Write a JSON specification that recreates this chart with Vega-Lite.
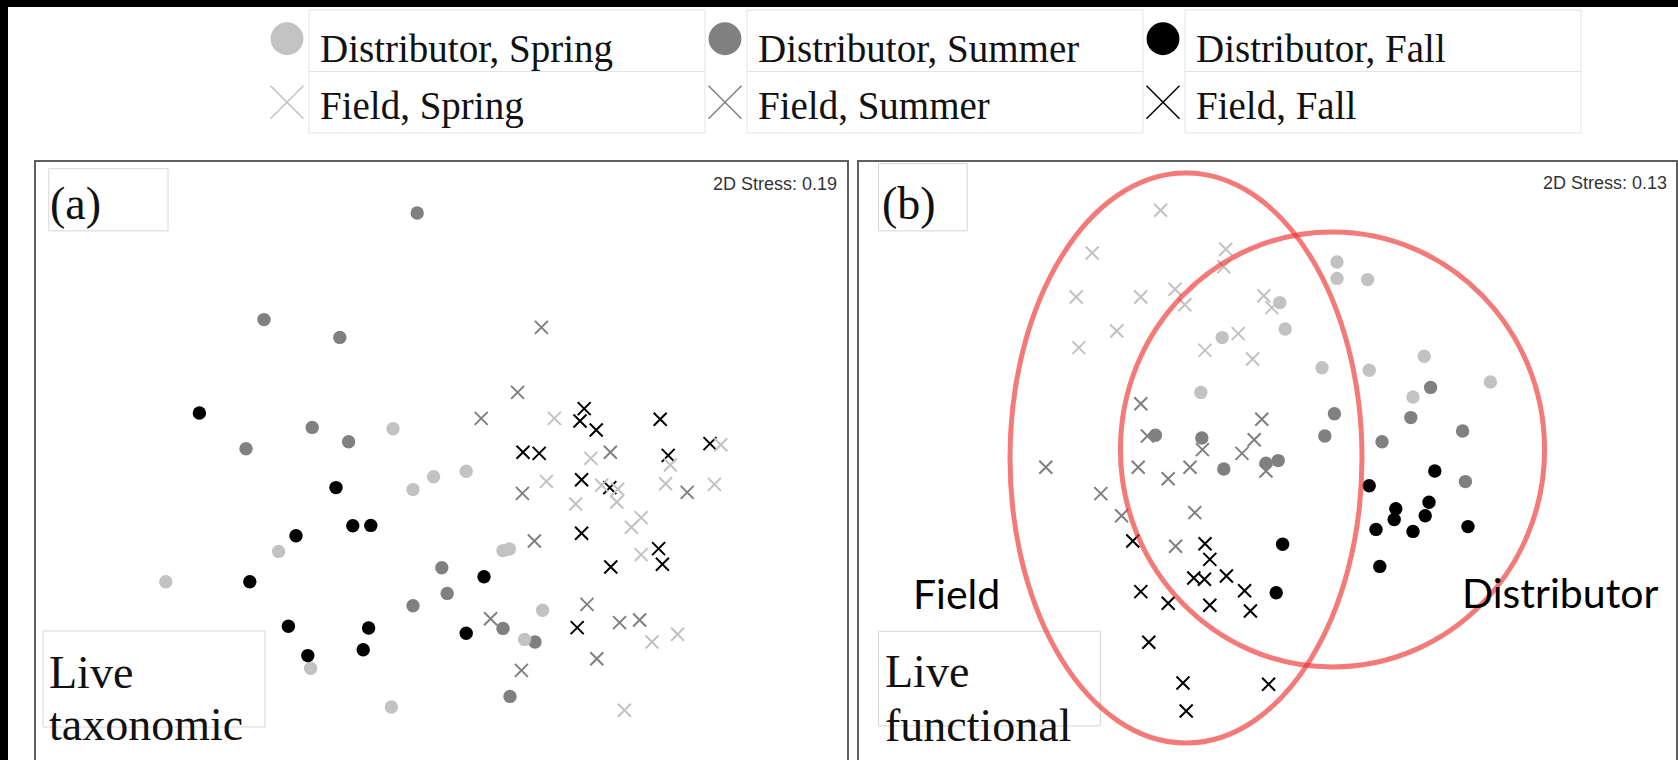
{
"$schema": "https://vega.github.io/schema/vega-lite/v6.json",
"padding": 0,
"background": "white",
"bounds": "flush",
"spacing": 0,
"config": {"view": {"stroke": null}, "concat": {"spacing": 0}},
"datasets": {
"legend": [
{"label": "Distributor, Spring", "group": "Distributor", "season": "Spring"},
{"label": "Distributor, Summer", "group": "Distributor", "season": "Summer"},
{"label": "Distributor, Fall", "group": "Distributor", "season": "Fall"},
{"label": "Field, Spring", "group": "Field", "season": "Spring"},
{"label": "Field, Summer", "group": "Field", "season": "Summer"},
{"label": "Field, Fall", "group": "Field", "season": "Fall"}
],
"boxes": [
{"panel": "a", "x": -1.931, "x2": -1.335, "y": 1.5615, "y2": 1.2505},
{"panel": "a", "x": -1.96, "x2": -0.85, "y": -0.75, "y2": -1.23},
{"panel": "b", "x": -1.8975, "x2": -1.454, "y": 1.587, "y2": 1.2505},
{"panel": "b", "x": -1.8975, "x2": -0.7885, "y": -0.7515, "y2": -1.2245}
],
"ann": [
{"panel": "a", "kind": "tag", "text": "(a)", "x": -1.925, "y": 1.31},
{"panel": "a", "kind": "stress", "text": "2D Stress: 0.19", "x": 2.01, "y": 1.455},
{"panel": "a", "kind": "name", "text": "Live", "x": -1.93, "y": -1.035},
{"panel": "a", "kind": "name", "text": "taxonomic", "x": -1.93, "y": -1.295},
{"panel": "b", "kind": "tag", "text": "(b)", "x": -1.88, "y": 1.31},
{"panel": "b", "kind": "stress", "text": "2D Stress: 0.13", "x": 2.045, "y": 1.46},
{"panel": "b", "kind": "name", "text": "Live", "x": -1.865, "y": -1.03},
{"panel": "b", "kind": "name", "text": "functional", "x": -1.865, "y": -1.3},
{"panel": "b", "kind": "group", "text": "Field", "x": -1.725, "y": -0.64},
{"panel": "b", "kind": "group", "text": "Distributor", "x": 1.02, "y": -0.635}
],
"ell": [
{"panel": "b", "name": "Field", "x": -0.36, "y": 0.115},
{"panel": "b", "name": "Distributor", "x": 0.3725, "y": 0.1575}
],
"pts": [
{"panel":"a","group":"Distributor","season":"Summer","x":-0.089,"y":1.340},
{"panel":"a","group":"Distributor","season":"Summer","x":-0.855,"y":0.807},
{"panel":"a","group":"Distributor","season":"Summer","x":-0.476,"y":0.718},
{"panel":"a","group":"Distributor","season":"Summer","x":-0.614,"y":0.268},
{"panel":"a","group":"Distributor","season":"Summer","x":-0.945,"y":0.161},
{"panel":"a","group":"Distributor","season":"Summer","x":-0.432,"y":0.196},
{"panel":"a","group":"Distributor","season":"Summer","x":0.034,"y":-0.434},
{"panel":"a","group":"Distributor","season":"Summer","x":0.061,"y":-0.562},
{"panel":"a","group":"Distributor","season":"Summer","x":-0.110,"y":-0.624},
{"panel":"a","group":"Distributor","season":"Summer","x":0.340,"y":-0.737},
{"panel":"a","group":"Distributor","season":"Summer","x":0.500,"y":-0.805},
{"panel":"a","group":"Distributor","season":"Summer","x":0.375,"y":-1.077},
{"panel":"a","group":"Distributor","season":"Spring","x":-0.210,"y":0.261},
{"panel":"a","group":"Distributor","season":"Spring","x":0.156,"y":0.049},
{"panel":"a","group":"Distributor","season":"Spring","x":-0.007,"y":0.021},
{"panel":"a","group":"Distributor","season":"Spring","x":-0.110,"y":-0.043},
{"panel":"a","group":"Distributor","season":"Spring","x":-0.782,"y":-0.352},
{"panel":"a","group":"Distributor","season":"Spring","x":-1.346,"y":-0.504},
{"panel":"a","group":"Distributor","season":"Spring","x":0.340,"y":-0.348},
{"panel":"a","group":"Distributor","season":"Spring","x":0.372,"y":-0.340},
{"panel":"a","group":"Distributor","season":"Spring","x":0.538,"y":-0.646},
{"panel":"a","group":"Distributor","season":"Spring","x":0.448,"y":-0.792},
{"panel":"a","group":"Distributor","season":"Spring","x":-0.622,"y":-0.936},
{"panel":"a","group":"Distributor","season":"Spring","x":-0.218,"y":-1.130},
{"panel":"a","group":"Distributor","season":"Fall","x":-1.178,"y":0.340},
{"panel":"a","group":"Distributor","season":"Fall","x":-0.495,"y":-0.033},
{"panel":"a","group":"Distributor","season":"Fall","x":-0.411,"y":-0.224},
{"panel":"a","group":"Distributor","season":"Fall","x":-0.321,"y":-0.222},
{"panel":"a","group":"Distributor","season":"Fall","x":-0.695,"y":-0.274},
{"panel":"a","group":"Distributor","season":"Fall","x":-0.926,"y":-0.504},
{"panel":"a","group":"Distributor","season":"Fall","x":0.245,"y":-0.479},
{"panel":"a","group":"Distributor","season":"Fall","x":-0.733,"y":-0.726},
{"panel":"a","group":"Distributor","season":"Fall","x":-0.332,"y":-0.735},
{"panel":"a","group":"Distributor","season":"Fall","x":0.156,"y":-0.761},
{"panel":"a","group":"Distributor","season":"Fall","x":-0.636,"y":-0.873},
{"panel":"a","group":"Distributor","season":"Fall","x":-0.359,"y":-0.844},
{"panel":"a","group":"Field","season":"Fall","x":0.746,"y":0.362},
{"panel":"a","group":"Field","season":"Fall","x":0.725,"y":0.300},
{"panel":"a","group":"Field","season":"Fall","x":0.806,"y":0.255},
{"panel":"a","group":"Field","season":"Fall","x":1.126,"y":0.309},
{"panel":"a","group":"Field","season":"Fall","x":0.440,"y":0.144},
{"panel":"a","group":"Field","season":"Fall","x":0.521,"y":0.138},
{"panel":"a","group":"Field","season":"Fall","x":1.166,"y":0.128},
{"panel":"a","group":"Field","season":"Fall","x":1.375,"y":0.187},
{"panel":"a","group":"Field","season":"Fall","x":0.733,"y":0.006},
{"panel":"a","group":"Field","season":"Fall","x":0.874,"y":-0.033},
{"panel":"a","group":"Field","season":"Fall","x":0.733,"y":-0.261},
{"panel":"a","group":"Field","season":"Fall","x":1.118,"y":-0.338},
{"panel":"a","group":"Field","season":"Fall","x":1.137,"y":-0.416},
{"panel":"a","group":"Field","season":"Fall","x":0.879,"y":-0.430},
{"panel":"a","group":"Field","season":"Fall","x":0.711,"y":-0.733},
{"panel":"a","group":"Field","season":"Spring","x":0.597,"y":0.313},
{"panel":"a","group":"Field","season":"Spring","x":0.779,"y":0.113},
{"panel":"a","group":"Field","season":"Spring","x":1.177,"y":0.080},
{"panel":"a","group":"Field","season":"Spring","x":1.429,"y":0.181},
{"panel":"a","group":"Field","season":"Spring","x":0.557,"y":-0.002},
{"panel":"a","group":"Field","season":"Spring","x":0.833,"y":-0.021},
{"panel":"a","group":"Field","season":"Spring","x":0.914,"y":-0.041},
{"panel":"a","group":"Field","season":"Spring","x":1.153,"y":-0.014},
{"panel":"a","group":"Field","season":"Spring","x":1.397,"y":-0.017},
{"panel":"a","group":"Field","season":"Spring","x":0.703,"y":-0.115},
{"panel":"a","group":"Field","season":"Spring","x":0.909,"y":-0.105},
{"panel":"a","group":"Field","season":"Spring","x":1.031,"y":-0.183},
{"panel":"a","group":"Field","season":"Spring","x":0.982,"y":-0.231},
{"panel":"a","group":"Field","season":"Spring","x":1.031,"y":-0.368},
{"panel":"a","group":"Field","season":"Spring","x":1.085,"y":-0.805},
{"panel":"a","group":"Field","season":"Spring","x":1.213,"y":-0.766},
{"panel":"a","group":"Field","season":"Spring","x":0.947,"y":-1.146},
{"panel":"a","group":"Field","season":"Summer","x":0.532,"y":0.768},
{"panel":"a","group":"Field","season":"Summer","x":0.413,"y":0.443},
{"panel":"a","group":"Field","season":"Summer","x":0.231,"y":0.313},
{"panel":"a","group":"Field","season":"Summer","x":0.877,"y":0.144},
{"panel":"a","group":"Field","season":"Summer","x":0.437,"y":-0.062},
{"panel":"a","group":"Field","season":"Summer","x":1.261,"y":-0.057},
{"panel":"a","group":"Field","season":"Summer","x":0.497,"y":-0.300},
{"panel":"a","group":"Field","season":"Summer","x":0.760,"y":-0.617},
{"panel":"a","group":"Field","season":"Summer","x":0.278,"y":-0.689},
{"panel":"a","group":"Field","season":"Summer","x":0.923,"y":-0.708},
{"panel":"a","group":"Field","season":"Summer","x":1.023,"y":-0.695},
{"panel":"a","group":"Field","season":"Summer","x":0.809,"y":-0.889},
{"panel":"a","group":"Field","season":"Summer","x":0.432,"y":-0.947},
{"panel":"b","group":"Field","season":"Spring","x":-0.487,"y":1.354},
{"panel":"b","group":"Field","season":"Spring","x":-0.829,"y":1.140},
{"panel":"b","group":"Field","season":"Spring","x":-0.161,"y":1.159},
{"panel":"b","group":"Field","season":"Spring","x":-0.171,"y":1.071},
{"panel":"b","group":"Field","season":"Spring","x":-0.909,"y":0.920},
{"panel":"b","group":"Field","season":"Spring","x":-0.586,"y":0.920},
{"panel":"b","group":"Field","season":"Spring","x":-0.415,"y":0.959},
{"panel":"b","group":"Field","season":"Spring","x":-0.366,"y":0.881},
{"panel":"b","group":"Field","season":"Spring","x":0.029,"y":0.926},
{"panel":"b","group":"Field","season":"Spring","x":0.069,"y":0.867},
{"panel":"b","group":"Field","season":"Spring","x":-0.706,"y":0.750},
{"panel":"b","group":"Field","season":"Spring","x":-0.896,"y":0.667},
{"panel":"b","group":"Field","season":"Spring","x":-0.099,"y":0.737},
{"panel":"b","group":"Field","season":"Spring","x":-0.265,"y":0.653},
{"panel":"b","group":"Field","season":"Spring","x":-0.027,"y":0.610},
{"panel":"b","group":"Distributor","season":"Spring","x":0.395,"y":1.095},
{"panel":"b","group":"Distributor","season":"Spring","x":0.395,"y":1.013},
{"panel":"b","group":"Distributor","season":"Spring","x":0.548,"y":1.007},
{"panel":"b","group":"Distributor","season":"Spring","x":0.109,"y":0.892},
{"panel":"b","group":"Distributor","season":"Spring","x":0.136,"y":0.760},
{"panel":"b","group":"Distributor","season":"Spring","x":-0.179,"y":0.717},
{"panel":"b","group":"Distributor","season":"Spring","x":0.320,"y":0.566},
{"panel":"b","group":"Distributor","season":"Spring","x":0.556,"y":0.554},
{"panel":"b","group":"Distributor","season":"Spring","x":0.831,"y":0.624},
{"panel":"b","group":"Distributor","season":"Spring","x":1.162,"y":0.495},
{"panel":"b","group":"Distributor","season":"Spring","x":0.775,"y":0.420},
{"panel":"b","group":"Distributor","season":"Spring","x":-0.286,"y":0.443},
{"panel":"b","group":"Distributor","season":"Summer","x":0.863,"y":0.468},
{"panel":"b","group":"Distributor","season":"Summer","x":0.382,"y":0.336},
{"panel":"b","group":"Distributor","season":"Summer","x":0.764,"y":0.317},
{"panel":"b","group":"Distributor","season":"Summer","x":0.334,"y":0.225},
{"panel":"b","group":"Distributor","season":"Summer","x":0.620,"y":0.196},
{"panel":"b","group":"Distributor","season":"Summer","x":1.023,"y":0.250},
{"panel":"b","group":"Distributor","season":"Summer","x":-0.513,"y":0.229},
{"panel":"b","group":"Distributor","season":"Summer","x":-0.281,"y":0.215},
{"panel":"b","group":"Distributor","season":"Summer","x":-0.171,"y":0.060},
{"panel":"b","group":"Distributor","season":"Summer","x":0.040,"y":0.089},
{"panel":"b","group":"Distributor","season":"Summer","x":0.101,"y":0.102},
{"panel":"b","group":"Distributor","season":"Summer","x":1.037,"y":-0.003},
{"panel":"b","group":"Field","season":"Summer","x":-0.586,"y":0.386},
{"panel":"b","group":"Field","season":"Summer","x":0.019,"y":0.309},
{"panel":"b","group":"Field","season":"Summer","x":-0.553,"y":0.225},
{"panel":"b","group":"Field","season":"Summer","x":-0.019,"y":0.206},
{"panel":"b","group":"Field","season":"Summer","x":-0.278,"y":0.157},
{"panel":"b","group":"Field","season":"Summer","x":-0.080,"y":0.138},
{"panel":"b","group":"Field","season":"Summer","x":-1.061,"y":0.069},
{"panel":"b","group":"Field","season":"Summer","x":-0.599,"y":0.069},
{"panel":"b","group":"Field","season":"Summer","x":-0.449,"y":0.011},
{"panel":"b","group":"Field","season":"Summer","x":-0.340,"y":0.069},
{"panel":"b","group":"Field","season":"Summer","x":0.040,"y":0.050},
{"panel":"b","group":"Field","season":"Summer","x":-0.786,"y":-0.063},
{"panel":"b","group":"Field","season":"Summer","x":-0.682,"y":-0.174},
{"panel":"b","group":"Field","season":"Summer","x":-0.316,"y":-0.158},
{"panel":"b","group":"Field","season":"Summer","x":-0.412,"y":-0.326},
{"panel":"b","group":"Distributor","season":"Fall","x":0.884,"y":0.050},
{"panel":"b","group":"Distributor","season":"Fall","x":0.556,"y":-0.024},
{"panel":"b","group":"Distributor","season":"Fall","x":0.855,"y":-0.106},
{"panel":"b","group":"Distributor","season":"Fall","x":0.689,"y":-0.139},
{"panel":"b","group":"Distributor","season":"Fall","x":0.681,"y":-0.193},
{"panel":"b","group":"Distributor","season":"Fall","x":0.836,"y":-0.174},
{"panel":"b","group":"Distributor","season":"Fall","x":0.590,"y":-0.242},
{"panel":"b","group":"Distributor","season":"Fall","x":0.775,"y":-0.252},
{"panel":"b","group":"Distributor","season":"Fall","x":1.050,"y":-0.228},
{"panel":"b","group":"Distributor","season":"Fall","x":0.123,"y":-0.316},
{"panel":"b","group":"Distributor","season":"Fall","x":0.091,"y":-0.559},
{"panel":"b","group":"Distributor","season":"Fall","x":0.609,"y":-0.427},
{"panel":"b","group":"Field","season":"Fall","x":-0.626,"y":-0.300},
{"panel":"b","group":"Field","season":"Fall","x":-0.265,"y":-0.314},
{"panel":"b","group":"Field","season":"Fall","x":-0.241,"y":-0.392},
{"panel":"b","group":"Field","season":"Fall","x":-0.321,"y":-0.485},
{"panel":"b","group":"Field","season":"Fall","x":-0.268,"y":-0.491},
{"panel":"b","group":"Field","season":"Fall","x":-0.158,"y":-0.475},
{"panel":"b","group":"Field","season":"Fall","x":-0.067,"y":-0.549},
{"panel":"b","group":"Field","season":"Fall","x":-0.586,"y":-0.553},
{"panel":"b","group":"Field","season":"Fall","x":-0.449,"y":-0.611},
{"panel":"b","group":"Field","season":"Fall","x":-0.241,"y":-0.621},
{"panel":"b","group":"Field","season":"Fall","x":-0.038,"y":-0.650},
{"panel":"b","group":"Field","season":"Fall","x":-0.546,"y":-0.806},
{"panel":"b","group":"Field","season":"Fall","x":-0.375,"y":-1.010},
{"panel":"b","group":"Field","season":"Fall","x":0.053,"y":-1.016},
{"panel":"b","group":"Field","season":"Fall","x":-0.359,"y":-1.150}
]
},
"vconcat": [
{"width": 1678, "height": 7, "view": {"fill": "black", "stroke": null}, "data": {"values": [{}]}, "mark": {"type": "point", "opacity": 0}},
{"hconcat": [
  {"width": 8, "height": 794, "view": {"fill": "black", "stroke": null}, "data": {"values": [{}]}, "mark": {"type": "point", "opacity": 0}},
  {"vconcat": [
    {"width": 1670, "height": 154,
     "data": {"name": "legend"},
     "encoding": {
       "x": {"field": "season", "type": "nominal", "axis": null, "scale": {"type": "band", "domain": ["Spring", "Summer", "Fall"], "range": [301, 1573], "paddingInner": 0.0959, "paddingOuter": 0}},
       "y": {"field": "group", "type": "nominal", "axis": null, "scale": {"type": "band", "domain": ["Distributor", "Field"], "range": [3, 126], "paddingInner": 0, "paddingOuter": 0}},
       "color": {"field": "season", "type": "nominal", "legend": null, "scale": {"domain": ["Spring", "Summer", "Fall"], "range": ["#c2c2c2", "#808080", "#000000"]}}
     },
     "layer": [
       {"mark": {"type": "rect", "fill": null, "filled": false, "stroke": "#e3e3e3", "strokeWidth": 1}, "encoding": {"color": {"value": "#e3e3e3"}}},
       {"transform": [{"filter": "datum.group === 'Distributor'"}], "mark": {"type": "point", "shape": "circle", "filled": true, "opacity": 1, "size": 1075, "xOffset": -220, "yOffset": -2}},
       {"transform": [{"filter": "datum.group === 'Field'"}], "mark": {"type": "point", "shape": "M-1,-1L1,1M-1,1L1,-1", "filled": false, "opacity": 1, "size": 1089, "strokeWidth": 1.5, "xOffset": -220, "yOffset": 0}},
       {"transform": [{"filter": "datum.group === 'Distributor'"}], "mark": {"type": "text", "align": "left", "baseline": "alphabetic", "font": "Liberation Serif", "fontSize": 39, "xOffset": -187, "yOffset": 21}, "encoding": {"text": {"field": "label"}, "color": {"value": "#111111"}}},
       {"transform": [{"filter": "datum.group === 'Field'"}], "mark": {"type": "text", "align": "left", "baseline": "alphabetic", "font": "Liberation Serif", "fontSize": 39, "xOffset": -187, "yOffset": 17}, "encoding": {"text": {"field": "label"}, "color": {"value": "#111111"}}}
     ]
    },
    {"hconcat": [
      {"width": 17, "height": 640, "data": {"values": [{}]}, "mark": {"type": "point", "opacity": 0}},
      {"width": 813, "height": 640,
       "view": {"stroke": "#5f5f5f", "strokeWidth": 2, "fill": "white"},
       "encoding": {
         "x": {"field": "x", "type": "quantitative", "axis": null, "scale": {"domain": [-2.0, 2.065], "nice": false, "zero": false}},
         "y": {"field": "y", "type": "quantitative", "axis": null, "scale": {"domain": [-1.6, 1.6], "nice": false, "zero": false}}
       },
       "layer": [
         {"data": {"name": "boxes"}, "transform": [{"filter": "datum.panel === 'a'"}], "mark": {"type": "rect", "fill": null, "stroke": "#d6d6d6", "strokeWidth": 1}, "encoding": {"x2": {"field": "x2"}, "y2": {"field": "y2"}}},
         {"data": {"name": "pts"}, "transform": [{"filter": "datum.panel === 'a' && datum.group === 'Distributor'"}], "mark": {"type": "point", "shape": "circle", "filled": true, "opacity": 1, "size": 180},
          "encoding": {"color": {"field": "season", "type": "nominal", "legend": null, "scale": {"domain": ["Spring", "Summer", "Fall"], "range": ["#c2c2c2", "#808080", "#000000"]}}}},
         {"data": {"name": "pts"}, "transform": [{"filter": "datum.panel === 'a' && datum.group === 'Field'"}], "mark": {"type": "point", "shape": "M-1,-1L1,1M-1,1L1,-1", "filled": false, "opacity": 1, "size": 169, "strokeWidth": 2},
          "encoding": {"color": {"field": "season", "type": "nominal", "legend": null, "scale": {"domain": ["Spring", "Summer", "Fall"], "range": ["#c2c2c2", "#808080", "#000000"]}}}},
         {"data": {"name": "ann"}, "transform": [{"filter": "datum.panel === 'a' && datum.kind === 'tag'"}], "mark": {"type": "text", "align": "left", "baseline": "alphabetic", "font": "Liberation Serif", "fontSize": 46, "color": "#111111"}, "encoding": {"text": {"field": "text"}}},
         {"data": {"name": "ann"}, "transform": [{"filter": "datum.panel === 'a' && datum.kind === 'name'"}], "mark": {"type": "text", "align": "left", "baseline": "alphabetic", "font": "Liberation Serif", "fontSize": 46, "color": "#111111"}, "encoding": {"text": {"field": "text"}}},
         {"data": {"name": "ann"}, "transform": [{"filter": "datum.panel === 'a' && datum.kind === 'stress'"}], "mark": {"type": "text", "align": "right", "baseline": "alphabetic", "font": "Liberation Sans", "fontSize": 18, "color": "#333333"}, "encoding": {"text": {"field": "text"}}}
       ]
      },
      {"width": 819, "height": 640,
       "view": {"stroke": "#5f5f5f", "strokeWidth": 2, "fill": "white"},
       "encoding": {
         "x": {"field": "x", "type": "quantitative", "axis": null, "scale": {"domain": [-2.0, 2.095], "nice": false, "zero": false}},
         "y": {"field": "y", "type": "quantitative", "axis": null, "scale": {"domain": [-1.6, 1.6], "nice": false, "zero": false}}
       },
       "layer": [
         {"data": {"name": "boxes"}, "transform": [{"filter": "datum.panel === 'b'"}], "mark": {"type": "rect", "fill": null, "stroke": "#d6d6d6", "strokeWidth": 1}, "encoding": {"x2": {"field": "x2"}, "y2": {"field": "y2"}}},
         {"data": {"name": "pts"}, "transform": [{"filter": "datum.panel === 'b' && datum.group === 'Distributor'"}], "mark": {"type": "point", "shape": "circle", "filled": true, "opacity": 1, "size": 180},
          "encoding": {"color": {"field": "season", "type": "nominal", "legend": null, "scale": {"domain": ["Spring", "Summer", "Fall"], "range": ["#c2c2c2", "#808080", "#000000"]}}}},
         {"data": {"name": "pts"}, "transform": [{"filter": "datum.panel === 'b' && datum.group === 'Field'"}], "mark": {"type": "point", "shape": "M-1,-1L1,1M-1,1L1,-1", "filled": false, "opacity": 1, "size": 169, "strokeWidth": 2},
          "encoding": {"color": {"field": "season", "type": "nominal", "legend": null, "scale": {"domain": ["Spring", "Summer", "Fall"], "range": ["#c2c2c2", "#808080", "#000000"]}}}},
         {"data": {"name": "ell"}, "transform": [{"filter": "datum.name === 'Field'"}], "mark": {"type": "point", "filled": false, "opacity": 1, "stroke": "#ee3333", "strokeOpacity": 0.65, "strokeWidth": 5, "size": 324900, "shape": "M0.6175,0C0.6175,0.5523,0.341,1,0,1C-0.341,1,-0.6175,0.5523,-0.6175,0C-0.6175,-0.5523,-0.341,-1,0,-1C0.341,-1,0.6175,-0.5523,0.6175,0Z"}},
         {"data": {"name": "ell"}, "transform": [{"filter": "datum.name === 'Distributor'"}], "mark": {"type": "point", "filled": false, "opacity": 1, "stroke": "#ee3333", "strokeOpacity": 0.65, "strokeWidth": 5, "size": 189225, "shape": "M0.975,0C0.975,0.5523,0.5385,1,0,1C-0.5385,1,-0.975,0.5523,-0.975,0C-0.975,-0.5523,-0.5385,-1,0,-1C0.5385,-1,0.975,-0.5523,0.975,0Z"}},
         {"data": {"name": "ann"}, "transform": [{"filter": "datum.panel === 'b' && datum.kind === 'tag'"}], "mark": {"type": "text", "align": "left", "baseline": "alphabetic", "font": "Liberation Serif", "fontSize": 46, "color": "#111111"}, "encoding": {"text": {"field": "text"}}},
         {"data": {"name": "ann"}, "transform": [{"filter": "datum.panel === 'b' && datum.kind === 'name'"}], "mark": {"type": "text", "align": "left", "baseline": "alphabetic", "font": "Liberation Serif", "fontSize": 46, "color": "#111111"}, "encoding": {"text": {"field": "text"}}},
         {"data": {"name": "ann"}, "transform": [{"filter": "datum.panel === 'b' && datum.kind === 'group'"}], "mark": {"type": "text", "align": "left", "baseline": "alphabetic", "font": "Lato", "fontSize": 41, "color": "#000000"}, "encoding": {"text": {"field": "text"}}},
         {"data": {"name": "ann"}, "transform": [{"filter": "datum.panel === 'b' && datum.kind === 'stress'"}], "mark": {"type": "text", "align": "right", "baseline": "alphabetic", "font": "Liberation Sans", "fontSize": 18, "color": "#333333"}, "encoding": {"text": {"field": "text"}}}
       ]
      }
    ], "spacing": 10, "bounds": "flush"}
  ], "spacing": 0, "bounds": "flush"}
], "spacing": 0, "bounds": "flush"}
]
}
